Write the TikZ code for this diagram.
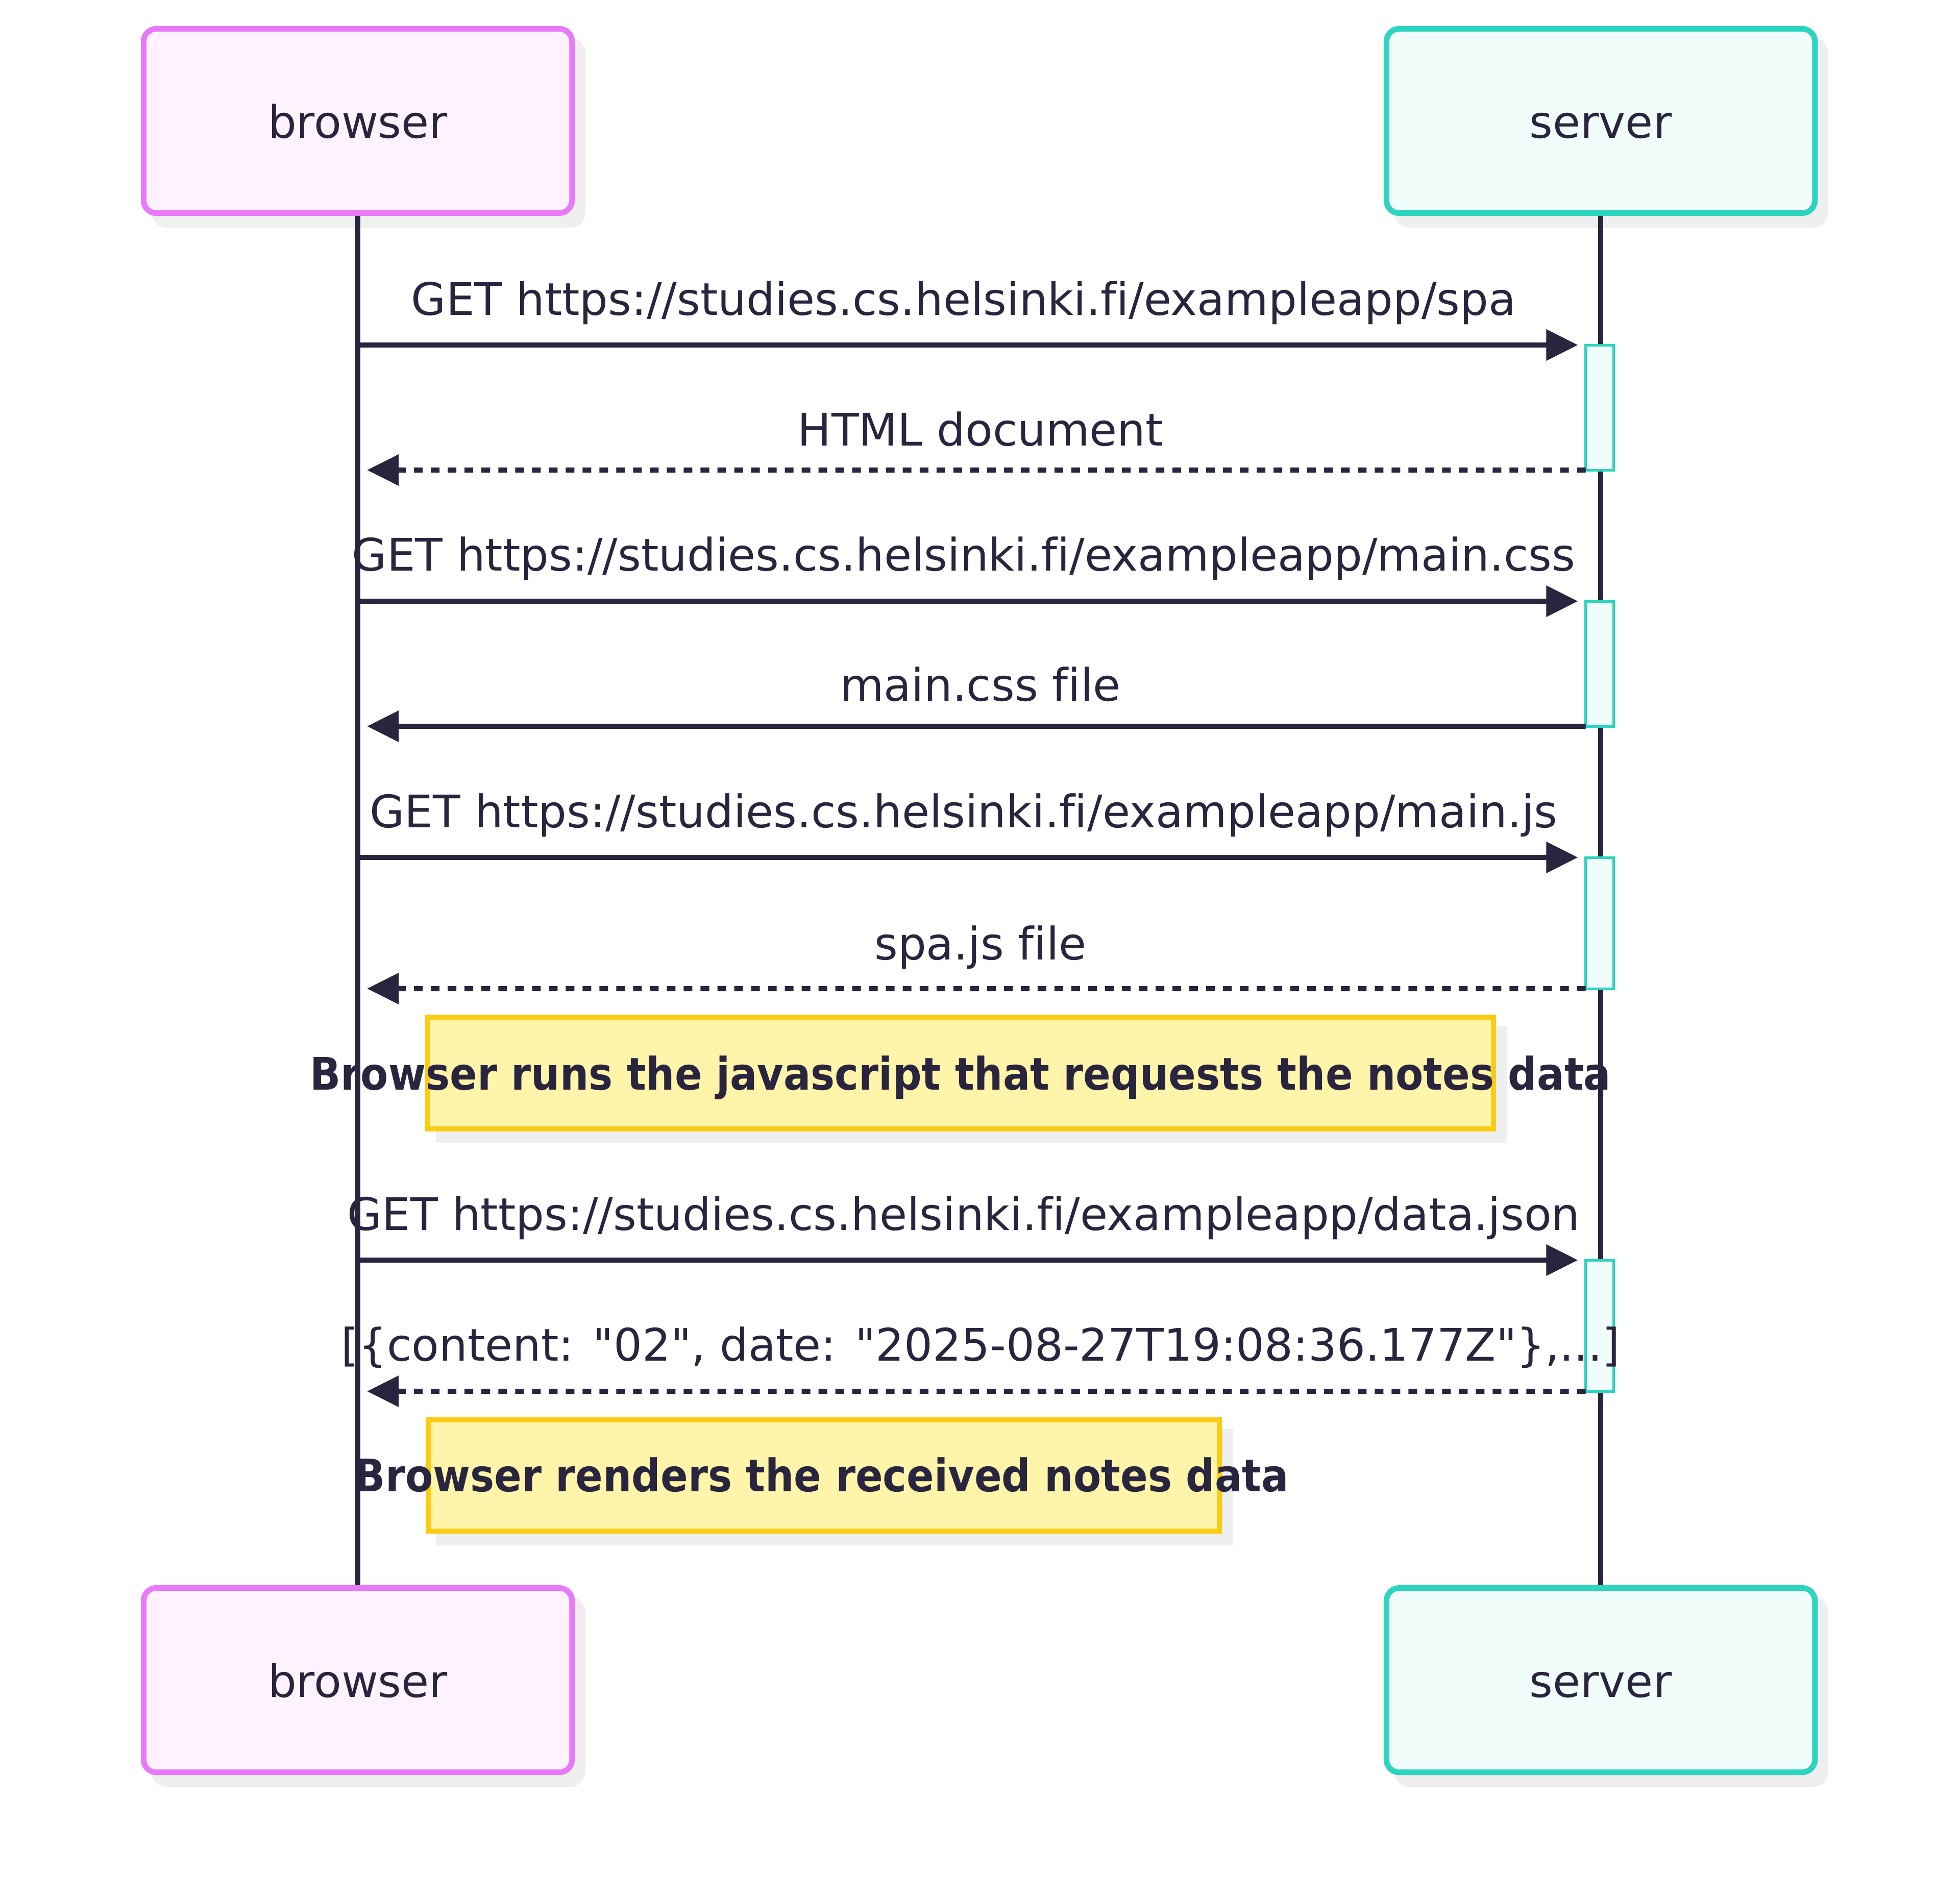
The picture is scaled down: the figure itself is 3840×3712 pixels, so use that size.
\documentclass[tikz,border=0pt]{standalone}
\usepackage{fontspec}
\setmainfont{DejaVu Sans}[Ligatures=NoCommon, BoldFeatures={FakeStretch=0.9}]
\usetikzlibrary{arrows.meta,shadows}
\definecolor{ink}{HTML}{2A253E}
\definecolor{brB}{HTML}{E879F9}
\definecolor{brF}{HTML}{FDF2FE}
\definecolor{svB}{HTML}{2DD4BF}
\definecolor{svF}{HTML}{F0FDFA}
\definecolor{ntB}{HTML}{FACC15}
\definecolor{ntF}{HTML}{FEF5AB}
\definecolor{shad}{HTML}{EFEFEF}
\begin{document}
\begin{tikzpicture}[x=0.01cm,y=-0.01cm,
  txt/.style={font=\fontsize{25}{30}\selectfont, text=ink, inner sep=0pt},
  lbl/.style={txt, anchor=base},
  part/.style={rectangle, rounded corners=0.25cm, line width=0.11cm,
     minimum width=8.39cm, minimum height=3.61cm, inner sep=0pt,
     drop shadow={shadow xshift=0.21cm, shadow yshift=-0.23cm, fill=shad, draw=shad, line width=0.11cm, opacity=1}},
  brpart/.style={part, draw=brB, fill=brF},
  svpart/.style={part, draw=svB, fill=svF},
  life/.style={draw=ink, line width=0.095cm},
  act/.style={rectangle, draw=svB, fill=svF, line width=0.05cm, minimum width=0.55cm, inner sep=0pt, outer sep=0pt},
  msg/.style={draw=ink, line width=0.1cm, -{Triangle[length=0.62cm, width=0.59cm]}},
  req/.style={msg, shorten >=0.15cm},
  ret/.style={msg, shorten >=0.19cm},
  retd/.style={ret, dash pattern=on 0.17cm off 0.16cm},
  note/.style={rectangle, draw=ntB, fill=ntF, line width=0.1cm, inner sep=0pt,
     drop shadow={shadow xshift=0.21cm, shadow yshift=-0.23cm, fill=shad, draw=shad, line width=0.1cm, opacity=1}},
  notetxt/.style={font=\fontsize{25}{30}\selectfont\bfseries, text=ink, inner sep=0pt, anchor=base}
]
\useasboundingbox (0,0) rectangle (3840,3712);

% participants
\node[brpart] (bt) at (701,237) {};
\node[svpart] (st) at (3136,237) {};
\node[brpart] (bb) at (701,3292) {};
\node[svpart] (sb) at (3136,3292) {};
\node[lbl] (btl) at (701,270) {browser};
\node[lbl] (stl) at (3136,270) {server};
\node[lbl] (bbl) at (701,3325) {browser};
\node[lbl] (sbl) at (3136,3325) {server};

% lifelines
\draw[life] (bt.south) -- (bb.north);
\draw[life] (st.south) -- (sb.north);

% activations
\node[act, minimum height=2.45cm, anchor=north] (a1) at (3134,676) {};
\node[act, minimum height=2.45cm, anchor=north] (a2) at (3134,1178) {};
\node[act, minimum height=2.57cm, anchor=north] (a3) at (3134,1680) {};
\node[act, minimum height=2.57cm, anchor=north] (a4) at (3134,2469) {};

% lifeline coordinates on browser side
\coordinate (b1) at (700,676);
\coordinate (r1) at (700,921);
\coordinate (b2) at (700,1178);
\coordinate (r2) at (700,1423);
\coordinate (b3) at (700,1680);
\coordinate (r3) at (700,1937);
\coordinate (b4) at (700,2469);
\coordinate (r4) at (700,2726);

% messages
\draw[req] (b1) -- (a1.north west);
\node[lbl] (m1) at (1888,617) {GET https://studies.cs.helsinki.fi/exampleapp/spa};
\draw[retd] (a1.south west) -- (r1);
\node[lbl] (m2) at (1921,873) {HTML document};
\draw[req] (b2) -- (a2.north west);
\node[lbl] (m3) at (1888,1118) {GET https://studies.cs.helsinki.fi/exampleapp/main.css};
\draw[ret] (a2.south west) -- (r2);
\node[lbl] (m4) at (1921,1373) {main.css file};
\draw[req] (b3) -- (a3.north west);
\node[lbl] (m5) at (1888,1621) {GET https://studies.cs.helsinki.fi/exampleapp/main.js};
\draw[retd] (a3.south west) -- (r3);
\node[lbl] (m6) at (1921,1880) {spa.js file};

% note 1
\node[note, minimum width=20.86cm, minimum height=2.19cm] (n1) at (1882,2102.5) {};
\node[notetxt] (n1t) at (1882,2135) {Browser runs the javascript that requests the notes data};

\draw[req] (b4) -- (a4.north west);
\node[lbl] (m7) at (1888,2410) {GET https://studies.cs.helsinki.fi/exampleapp/data.json};
\draw[retd] (a4.south west) -- (r4);
\node[lbl] (m8) at (1921,2666) {[\{content: \textquotedbl 02\textquotedbl, date: \textquotedbl 2025-08-27T19:08:36.177Z\textquotedbl\},...]};

% note 2
\node[note, minimum width=15.50cm, minimum height=2.18cm] (n2) at (1614,2891) {};
\node[notetxt] (n2t) at (1610,2922) {Browser renders the received notes data};
\end{tikzpicture}
\end{document}
